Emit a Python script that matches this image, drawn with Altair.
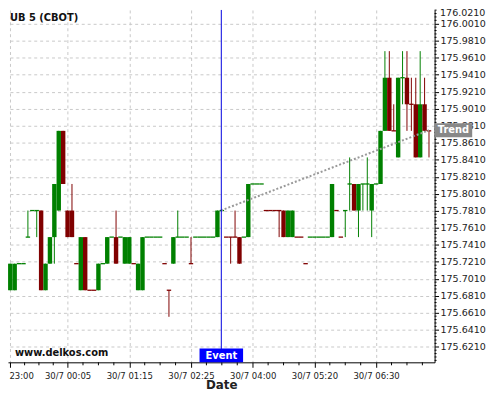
import altair as alt
import pandas as pd

# ---------------- data ----------------
idx = list(range(96))
opens = [175.6875, 175.6875, 175.71875, 175.71875, 175.75, 175.78125, 175.78125, 175.78125, 175.6875, 175.71875,
         175.75, 175.78125, 175.875, 175.78125, 175.78125, 175.71875, 175.6875, 175.75, 175.6875, 175.6875,
         175.6875, 175.71875, 175.71875, 175.75, 175.75, 175.75, 175.71875, 175.71875, 175.71875, 175.6875,
         175.6875, 175.75, 175.75, 175.75, 175.75, 175.71875, 175.6875, 175.71875, 175.75, 175.75,
         175.75, 175.71875, 175.75, 175.75, 175.75, 175.75, 175.75, 175.75, 175.78125, 175.75,
         175.75, 175.75, 175.75, 175.75, 175.75, 175.8125, 175.8125, 175.8125, 175.78125, 175.78125,
         175.78125, 175.78125, 175.78125, 175.75, 175.75, 175.75, 175.75, 175.71875, 175.75, 175.75,
         175.75, 175.75, 175.75, 175.75, 175.78125, 175.75, 175.78125, 175.8125, 175.8125, 175.78125,
         175.8125, 175.8125, 175.78125, 175.8125, 175.8125, 175.875, 175.9375, 175.875, 175.84375, 175.9375,
         175.9375, 175.90625, 175.90625, 175.84375, 175.90625, 175.875]
highs = [175.71875, 175.71875, 175.71875, 175.71875, 175.78125, 175.78125, 175.78125, 175.78125, 175.71875, 175.75,
         175.8125, 175.875, 175.875, 175.78125, 175.8125, 175.71875, 175.75, 175.75, 175.6875, 175.6875,
         175.71875, 175.71875, 175.75, 175.75, 175.78125, 175.75, 175.75, 175.75, 175.71875, 175.71875,
         175.75, 175.75, 175.75, 175.75, 175.75, 175.71875, 175.6875, 175.75, 175.78125, 175.75,
         175.75, 175.75, 175.75, 175.75, 175.75, 175.75, 175.75, 175.78125, 175.78125, 175.75,
         175.75, 175.78125, 175.75, 175.75, 175.8125, 175.8125, 175.8125, 175.8125, 175.78125, 175.78125,
         175.78125, 175.78125, 175.78125, 175.78125, 175.78125, 175.75, 175.75, 175.71875, 175.75, 175.75,
         175.75, 175.75, 175.75, 175.8125, 175.78125, 175.75, 175.78125, 175.84375, 175.8125, 175.8125,
         175.8125, 175.84375, 175.8125, 175.8125, 175.875, 175.96875, 175.96875, 175.90625, 175.9375, 175.96875,
         175.96875, 175.9375, 175.9375, 175.96875, 175.9375, 175.875]
lows = [175.6875, 175.6875, 175.71875, 175.71875, 175.75, 175.78125, 175.75, 175.6875, 175.6875, 175.71875,
        175.71875, 175.78125, 175.8125, 175.75, 175.75, 175.71875, 175.6875, 175.6875, 175.6875, 175.6875,
        175.6875, 175.71875, 175.71875, 175.75, 175.71875, 175.75, 175.71875, 175.71875, 175.71875, 175.6875,
        175.6875, 175.75, 175.75, 175.75, 175.75, 175.71875, 175.65625, 175.71875, 175.75, 175.75,
        175.75, 175.71875, 175.75, 175.75, 175.75, 175.75, 175.75, 175.75, 175.78125, 175.75,
        175.71875, 175.75, 175.71875, 175.75, 175.75, 175.8125, 175.8125, 175.8125, 175.78125, 175.78125,
        175.78125, 175.75, 175.75, 175.75, 175.75, 175.75, 175.75, 175.71875, 175.75, 175.75,
        175.75, 175.75, 175.75, 175.75, 175.78125, 175.75, 175.75, 175.78125, 175.78125, 175.75,
        175.78125, 175.78125, 175.75, 175.8125, 175.8125, 175.875, 175.875, 175.875, 175.84375, 175.90625,
        175.875, 175.875, 175.84375, 175.84375, 175.875, 175.84375]
closes = [175.71875, 175.71875, 175.71875, 175.71875, 175.75, 175.78125, 175.78125, 175.6875, 175.71875, 175.75,
          175.8125, 175.875, 175.8125, 175.75, 175.75, 175.71875, 175.75, 175.6875, 175.6875, 175.6875,
          175.71875, 175.71875, 175.75, 175.75, 175.71875, 175.75, 175.75, 175.75, 175.71875, 175.71875,
          175.75, 175.75, 175.75, 175.75, 175.75, 175.71875, 175.6875, 175.75, 175.75, 175.75,
          175.75, 175.71875, 175.75, 175.75, 175.75, 175.75, 175.75, 175.78125, 175.78125, 175.75,
          175.75, 175.75, 175.71875, 175.75, 175.8125, 175.8125, 175.8125, 175.8125, 175.78125, 175.78125,
          175.78125, 175.78125, 175.75, 175.78125, 175.78125, 175.75, 175.75, 175.71875, 175.75, 175.75,
          175.75, 175.75, 175.75, 175.8125, 175.78125, 175.75, 175.78125, 175.8125, 175.78125, 175.8125,
          175.8125, 175.8125, 175.8125, 175.8125, 175.875, 175.9375, 175.875, 175.875, 175.9375, 175.9375,
          175.90625, 175.90625, 175.84375, 175.90625, 175.875, 175.875]
dirs = ["up", "up", "up", "up", "up", "up", "up", "down", "up", "up",
        "up", "up", "down", "down", "down", "down", "up", "down", "down", "down",
        "up", "up", "up", "up", "down", "up", "up", "up", "down", "up",
        "up", "up", "up", "up", "up", "down", "down", "up", "up", "up",
        "up", "down", "up", "up", "up", "up", "up", "up", "up", "down",
        "down", "down", "down", "up", "up", "up", "up", "up", "down", "down",
        "down", "down", "down", "up", "up", "down", "down", "down", "up", "up",
        "up", "up", "up", "up", "down", "down", "up", "up", "down", "up",
        "up", "up", "up", "up", "up", "up", "down", "down", "up", "up",
        "down", "down", "down", "up", "down", "down"]

x_label_idx = [0, 13, 27, 41, 55, 69, 83]
x_label_txt = ["30/7 23:00", "30/7 00:05", "30/7 01:15", "30/7 02:25",
               "30/7 04:00", "30/7 05:20", "30/7 06:30"]
x_minor_idx = [3.25, 6.5, 9.75, 16.5, 20, 23.5, 30.5, 34, 37.5, 44.5, 48, 51.5,
               58.5, 62, 65.5, 72.5, 76, 79.5, 86.5, 90, 93.5]
y_tick_vals = [175.621, 175.641, 175.661, 175.681, 175.701, 175.721, 175.741, 175.761,
               175.781, 175.801, 175.821, 175.841, 175.861, 175.881, 175.901, 175.921,
               175.941, 175.961, 175.981, 176.001]
y_top_label = ["176.0210"]
y_minor_vals = [v for v in [round(175.605 + 0.004 * m, 4) for m in range(104)]
                if all(abs(v - t) > 0.001 for t in y_tick_vals)]

event_idx = [47.88]
event_label = ["Event"]
trend_idx = [47.8, 95.0]
trend_vals = [175.7813, 175.8757]
trend_label = ["Trend"]
chart_title = "UB 5 (CBOT)"
watermark = "www.delkos.com"

X_DOMAIN = [-0.516, 96.27]
Y_DOMAIN = [175.6027, 176.0172]
W, H = 431, 356
FONT = "DejaVu Sans"

df = pd.DataFrame({"i": idx, "open": opens, "high": highs, "low": lows,
                   "close": closes, "dir": dirs})
trend_df = pd.DataFrame({"ti": trend_idx, "tp": trend_vals})
trend_lbl_df = pd.DataFrame({"tp": [trend_vals[-1]], "label": trend_label})
event_df = pd.DataFrame({"ei": event_idx, "label": event_label})
xminor_df = pd.DataFrame({"m": x_minor_idx})
yminor_df = pd.DataFrame({"m": y_minor_vals})
text_df = pd.DataFrame({"t": [chart_title]})
wm_df = pd.DataFrame({"t": [watermark]})
ytop_df = pd.DataFrame({"t": y_top_label})

label_expr = "".join(f"datum.value == {v} ? '{t}' : " for v, t in zip(x_label_idx, x_label_txt)) + "''"

x_axis = alt.Axis(values=x_label_idx, labelExpr=label_expr, title="Date",
                  grid=True, gridColor="#c8c8c8", gridDash=[3, 3], gridWidth=1,
                  domainColor="#000000", tickColor="#000000", tickSize=5,
                  labelPadding=4, labelFont=FONT, labelFontSize=8.6, labelColor="#222222",
                  labelFlush=False, labelOverlap=False,
                  titleFont=FONT, titleFontSize=12, titleFontWeight="bold",
                  titleColor="#222222", titlePadding=0)
y_axis = alt.Axis(orient="right", values=y_tick_vals, format=".4f", title=None,
                  grid=True, gridColor="#c8c8c8", gridDash=[3, 3], gridWidth=1,
                  domainColor="#000000", tickColor="#000000", tickSize=4,
                  labelPadding=1.5, labelFont=FONT, labelFontSize=9.6, labelColor="#222222",
                  labelOverlap=False)


def X(f):
    return alt.X(f"{f}:Q", scale=alt.Scale(domain=X_DOMAIN, nice=False, zero=False), axis=x_axis)


def Y(f):
    return alt.Y(f"{f}:Q", scale=alt.Scale(domain=Y_DOMAIN, nice=False, zero=False), axis=y_axis)


color = alt.Color("dir:N", scale=alt.Scale(domain=["up", "down"], range=["#008000", "#800000"]),
                  legend=None)

base = alt.Chart(df).transform_calculate(x0="datum.i - 0.5", x1="datum.i + 0.5")

wicks = base.mark_rule(strokeWidth=1).encode(x=X("i"), y=Y("low"), y2="high", color=color)
bodies = base.mark_rect().encode(x=X("x0"), x2="x1", y=Y("open"), y2="close", color=color)
flats = base.transform_filter("datum.open == datum.close").mark_rule(strokeWidth=1.3).encode(
    x=X("x0"), x2="x1", y=Y("open"), color=color)

trend = alt.Chart(trend_df).mark_line(strokeDash=[2, 2], strokeWidth=2, color="#999999").encode(
    x=X("ti"), y=Y("tp"))

event_rule = alt.Chart(event_df).mark_rule(color="#0000e0", strokeWidth=1).encode(x=X("ei"))
event_box = alt.Chart(event_df).mark_rect(color="#0000ff", xOffset=-22, x2Offset=22).encode(
    x=X("ei"), x2="ei", y=alt.value(342), y2=alt.value(356))
event_txt = alt.Chart(event_df).mark_text(color="white", font=FONT, fontSize=10, fontWeight="bold",
                                          baseline="middle", align="center").encode(
    x=X("ei"), y=alt.value(349.5), text="label:N")

trend_box = alt.Chart(trend_lbl_df).mark_rect(color="#888888", yOffset=-7, y2Offset=7).encode(
    x=alt.value(431), x2=alt.value(469), y=Y("tp"), y2="tp")
trend_txt = alt.Chart(trend_lbl_df).mark_text(color="white", font=FONT, fontSize=10, fontWeight="bold",
                                              baseline="middle", align="center").encode(
    x=alt.value(450), y=Y("tp"), text="label:N")

xminor = alt.Chart(xminor_df).mark_rule(color="#000000", strokeWidth=1).encode(
    x=X("m"), y=alt.value(H), y2=alt.value(H + 3))
yminor = alt.Chart(yminor_df).mark_rule(color="#000000", strokeWidth=1).encode(
    y=Y("m"), x=alt.value(W), x2=alt.value(W + 2))

title_txt = alt.Chart(text_df).mark_text(font=FONT, fontSize=10, fontWeight="bold", color="#111111",
                                         align="left", baseline="alphabetic").encode(
    x=alt.value(2), y=alt.value(11.3), text="t:N")
wm_txt = alt.Chart(wm_df).mark_text(font=FONT, fontSize=10, fontWeight="bold", color="#111111",
                                    align="left", baseline="alphabetic").encode(
    x=alt.value(7), y=alt.value(349.3), text="t:N")
ytop_txt = alt.Chart(ytop_df).mark_text(font=FONT, fontSize=9.6, color="#222222",
                                        align="left", baseline="top").encode(
    x=alt.value(W + 5.5), y=alt.value(-1.5), text="t:N")

chart = alt.layer(
    wicks, bodies, flats, trend, event_rule, xminor, yminor,
    event_box, event_txt, trend_box, trend_txt, title_txt, wm_txt, ytop_txt
).properties(
    width=W, height=H,
    padding={"left": 0, "top": 0, "right": 58, "bottom": 29},
    autosize=alt.AutoSizeParams(type="none"),
    background="white"
).configure_view(stroke=None)

chart.save("out.html", embed_options={"renderer": "svg", "actions": False})
